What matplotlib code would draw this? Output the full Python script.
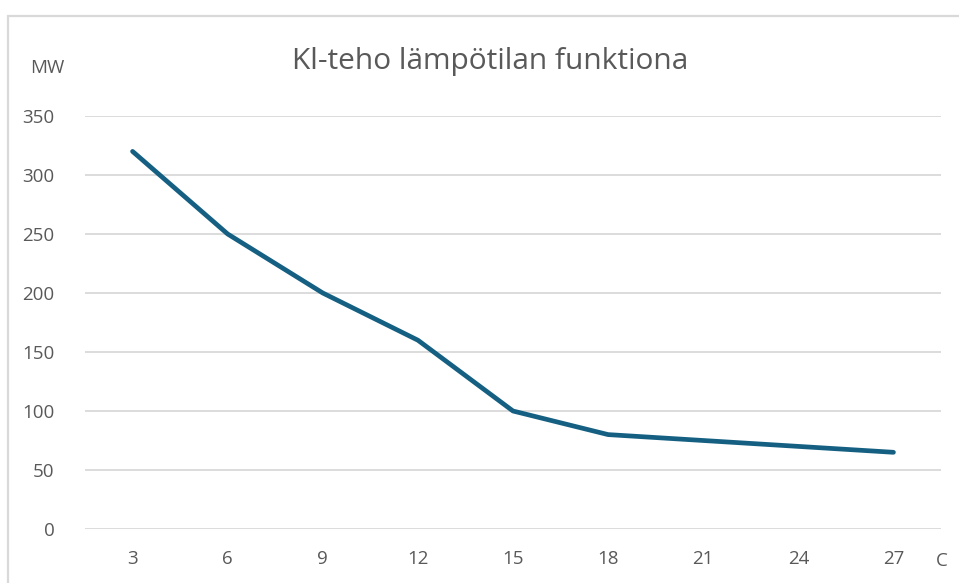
import matplotlib
matplotlib.use("Agg")
import matplotlib.pyplot as plt
from matplotlib.patches import Rectangle

temperatures = ["3", "6", "9", "12", "15", "18", "21", "24", "27"]
power_mw = [320, 250, 200, 160, 100, 80, 75, 70, 65]
y_ticks = [0, 50, 100, 150, 200, 250, 300, 350]

plt.rcParams["font.family"] = ["Open Sans", "DejaVu Sans"]
text_color = "#595959"
grid_color = "#d9d9d9"

W, H = 959, 583
fig = plt.figure(figsize=(W / 100, H / 100), dpi=100)
fig.patch.set_facecolor("white")

# chart area border (left and top edges visible)
fig.patches.append(Rectangle((8 / W, -0.1), 1.2, (H - 16) / H + 0.1,
                             transform=fig.transFigure, fill=False,
                             edgecolor=grid_color, linewidth=1.6))

ax = fig.add_axes([85 / W, 1 - 529 / H, (941 - 85) / W, (529 - 116) / H])
x = list(range(len(temperatures)))
ax.plot(x, power_mw, color="#156082", linewidth=3.4,
        solid_capstyle="round", solid_joinstyle="round", zorder=3)

ax.set_xlim(-0.5, len(temperatures) - 0.5)
ax.set_ylim(0, 350)
ax.set_yticks(y_ticks)
ax.set_xticks(x)
ax.set_xticklabels(temperatures)
ax.yaxis.grid(True, color=grid_color, linewidth=1.3)
ax.set_axisbelow(True)
for s in ax.spines.values():
    s.set_visible(False)
ax.tick_params(axis="both", length=0, labelsize=13.5, labelcolor=text_color)
ax.tick_params(axis="y", pad=22)
ax.tick_params(axis="x", pad=15)

fig.text(490 / W, 1 - 62 / H, "Kl-teho lämpötilan funktiona", ha="center",
         va="center", fontsize=21.5, color=text_color)
fig.text(47 / W, 1 - 68 / H, "MW", ha="center", va="center",
         fontsize=13.5, color=text_color)
fig.text(942 / W, 1 - 561 / H, "C", ha="center", va="center",
         fontsize=13.5, color=text_color)

fig.savefig("out.png", dpi=100)
